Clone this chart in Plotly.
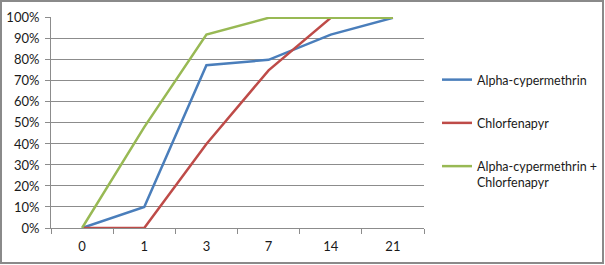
import plotly.graph_objects as go

days = ["0", "1", "3", "7", "14", "21"]
alpha = [0.0, 0.10, 0.775, 0.80, 0.92, 1.00]
chlor = [0.0, 0.0, 0.40, 0.75, 1.00, 1.00]
combo = [0.0, 0.48, 0.92, 1.00, 1.00, 1.00]
names = ["Alpha-cypermethrin", "Chlorfenapyr", "Alpha-cypermethrin +<br>Chlorfenapyr"]
colors = ["#4A7EBB", "#BE4B48", "#98B954"]

FONT = "Lato"
W, H = 605, 265
L, R, T, B = 51, 424, 17, 228

fig = go.Figure()
for i, (vals, nm, col) in enumerate(zip([alpha, chlor, combo], names, colors)):
    fig.add_trace(go.Scatter(x=days, y=vals, mode="lines", name=nm,
                             legendgroup=f"g{i}",
                             line=dict(color=col, width=2.5)))

pw, ph = R - L, B - T
fig.update_layout(
    width=W, height=H,
    margin=dict(l=L, r=W - R, t=T, b=H - B, pad=0, autoexpand=False),
    paper_bgcolor="white", plot_bgcolor="white",
    font=dict(family=FONT, size=12.5, color="#1a1a1a"),
    showlegend=True,
    legend=dict(x=(437 - L) / pw, xanchor="left", y=(B - 65) / ph, yanchor="top",
                tracegroupgap=24, valign="top", bgcolor="rgba(0,0,0,0)",
                font=dict(family=FONT, size=12.5, color="#1a1a1a")),
    xaxis=dict(type="category", range=[-0.5, 5.5], showgrid=False,
               showline=True, linecolor="#8c8c8c", linewidth=1,
               ticks="outside", tickson="boundaries", ticklen=5, tickcolor="#8c8c8c",
               ticklabelstandoff=6, automargin=False,
               tickfont=dict(size=13), fixedrange=True),
    yaxis=dict(range=[0, 1.004], dtick=0.1, tickformat=".0%",
               showgrid=True, gridcolor="#8c8c8c", gridwidth=1,
               showline=True, linecolor="#8c8c8c", linewidth=1,
               ticks="outside", ticklen=5, tickcolor="#8c8c8c",
               ticklabelstandoff=3, automargin=False,
               zeroline=False, tickfont=dict(size=13), fixedrange=True),
    shapes=[dict(type="rect", xref="paper", yref="paper",
                 x0=(1 - L) / pw, x1=(603 - L) / pw,
                 y0=(B - 263) / ph, y1=(B - 1) / ph,
                 line=dict(color="#8a8a8a", width=2), fillcolor="rgba(0,0,0,0)",
                 layer="below")],
)
fig.write_html("out.html")
